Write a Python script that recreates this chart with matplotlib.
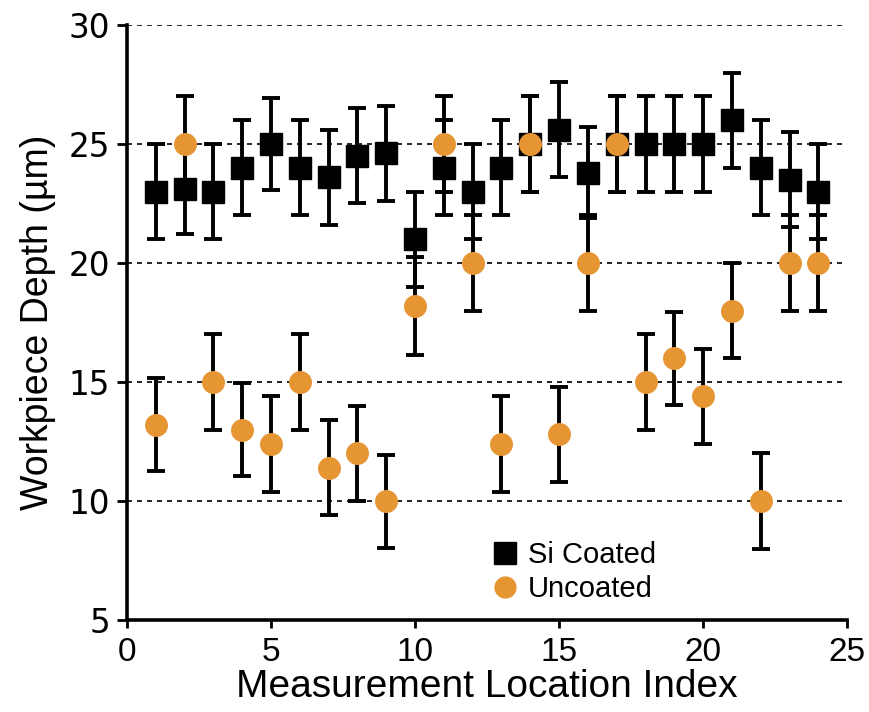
import matplotlib
matplotlib.use('Agg')
import matplotlib.pyplot as plt

# measurement locations
index = list(range(1, 25))

# Si coated workpiece depth (um) and error
si_depth = [23.0, 23.1, 23.0, 24.0, 25.0, 24.0, 23.6, 24.5, 24.6, 21.0, 24.0, 23.0,
            24.0, 25.0, 25.6, 23.8, 25.0, 25.0, 25.0, 25.0, 26.0, 24.0, 23.5, 23.0]
si_err = [2.0, 1.9, 2.0, 2.0, 1.95, 2.0, 2.0, 2.0, 2.0, 2.0, 2.0, 2.0,
          2.0, 2.0, 2.0, 1.9, 2.0, 2.0, 2.0, 2.0, 2.0, 2.0, 2.0, 2.0]

# uncoated workpiece depth (um) and error
unc_depth = [13.2, 25.0, 15.0, 13.0, 12.4, 15.0, 11.4, 12.0, 10.0, 18.2, 25.0, 20.0,
             12.4, 25.0, 12.8, 20.0, 25.0, 15.0, 16.0, 14.4, 18.0, 10.0, 20.0, 20.0]
unc_err = [1.95, 2.0, 2.0, 1.95, 2.0, 2.0, 2.0, 2.0, 1.95, 2.05, 2.0, 2.0,
           2.0, 2.0, 2.0, 2.0, 2.0, 2.0, 1.95, 2.0, 2.0, 2.0, 2.0, 2.0]

orange = '#E69533'
arial = 'Liberation Sans'

fig = plt.figure(figsize=(8.69, 7.12), dpi=100)
ax = fig.add_axes([0.146, 0.129, 0.829, 0.836])

# grid lines
for g in [10, 15, 20, 25, 30]:
    ax.axhline(g, color='black', linestyle=(0, (3, 3)), linewidth=1.2, zorder=0)

ax.errorbar(index, si_depth, yerr=si_err, fmt='s', color='black', ecolor='black',
            markersize=16, elinewidth=2.8, capsize=6.5, capthick=2.8, zorder=3)
ax.errorbar(index, unc_depth, yerr=unc_err, fmt='o', color=orange, ecolor='black',
            markersize=15.5, elinewidth=2.8, capsize=6.5, capthick=2.8, zorder=4)

ax.set_xlim(0, 25)
ax.set_ylim(5, 30)
ax.set_xticks([0, 5, 10, 15, 20, 25])
ax.set_yticks([5, 10, 15, 20, 25, 30])

for side in ['top', 'right']:
    ax.spines[side].set_visible(False)
for side in ['left', 'bottom']:
    ax.spines[side].set_linewidth(2.6)

ax.tick_params(axis='y', direction='out', length=7, width=2, labelsize=23.5, pad=5)
ax.tick_params(axis='x', direction='out', length=6, width=2, labelsize=24, pad=6)
for lab in ax.get_xticklabels():
    lab.set_family(arial)
for lab in ax.get_yticklabels():
    lab.set_family('DejaVu Sans')

ax.set_xlabel('Measurement Location Index', fontsize=28, family=arial, labelpad=1)
ax.set_ylabel('Workpiece Depth (µm)', fontsize=27, family=arial, labelpad=9)

# legend without error bars
h1 = plt.Line2D([], [], marker='s', color='black', linestyle='none', markersize=16)
h2 = plt.Line2D([], [], marker='o', color=orange, linestyle='none', markersize=15)
ax.legend([h1, h2], ['Si Coated', 'Uncoated'], loc='lower left',
          bbox_to_anchor=(0.468, -0.016), frameon=False, handlelength=1.0,
          handletextpad=0.3, labelspacing=0.22, prop={'family': arial, 'size': 21})

fig.savefig('out.png', dpi=100)
